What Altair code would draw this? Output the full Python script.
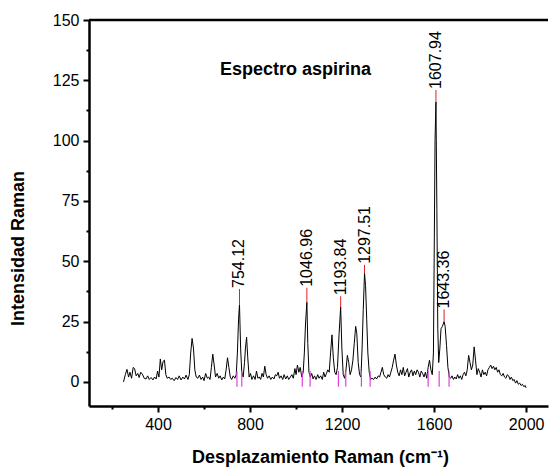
import altair as alt
import pandas as pd

# Raman shift (cm-1) and intensity
shift = [250, 258, 265, 272, 278, 285, 292, 298, 305, 312, 318, 325, 332, 340, 348, 355, 362, 370, 378, 385,
         392, 398, 404, 410, 416, 422, 428, 434, 440, 448, 455, 462, 470, 478, 485, 492, 500, 508, 515, 522,
         530, 536, 542, 548, 554, 560, 566, 573, 580, 587, 594, 600, 607, 614, 620, 626, 632, 638, 644, 650,
         657, 664, 670, 677, 684, 690, 696, 702, 708, 714, 720, 727, 734, 740, 745, 750, 754.12, 759, 764, 770,
         776, 780, 785, 790, 796, 802, 808, 815, 822, 828, 834, 840, 846, 852, 858, 864, 870, 876, 883, 890,
         897, 904, 910, 916, 922, 928, 935, 942, 948, 955, 962, 968, 975, 982, 988, 995, 1000, 1006, 1012, 1018,
         1025, 1031, 1036, 1041, 1046.96, 1051, 1056, 1062, 1068, 1074, 1080, 1087, 1094, 1100, 1107, 1114, 1120, 1126, 1132, 1138,
         1144, 1150, 1156, 1162, 1168, 1174, 1180, 1187, 1193.84, 1199, 1205, 1211, 1217, 1223, 1229, 1235, 1241, 1247, 1253, 1259,
         1264, 1270, 1276, 1282, 1287, 1292, 1297.51, 1302, 1307, 1312, 1318, 1324, 1330, 1337, 1344, 1350, 1357, 1363, 1369, 1375,
         1381, 1388, 1394, 1400, 1406, 1412, 1418, 1424, 1430, 1436, 1442, 1448, 1454, 1460, 1466, 1472, 1478, 1484, 1490, 1496,
         1502, 1508, 1514, 1520, 1526, 1532, 1538, 1544, 1550, 1556, 1562, 1568, 1574, 1580, 1586, 1592, 1597, 1601, 1604, 1607.94,
         1612, 1616, 1620, 1625, 1630, 1636, 1643.36, 1648, 1654, 1660, 1666, 1672, 1678, 1684, 1690, 1696, 1702, 1708, 1714, 1720,
         1726, 1732, 1738, 1744, 1750, 1756, 1762, 1768, 1774, 1780, 1786, 1792, 1798, 1804, 1810, 1816, 1822, 1828, 1834, 1840,
         1846, 1852, 1858, 1864, 1870, 1876, 1882, 1888, 1894, 1900, 1906, 1912, 1918, 1924, 1930, 1936, 1942, 1948, 1954, 1960,
         1966, 1972, 1978, 1984, 1990, 1996, 2000]
intensity = [0, 3, 5.2, 2, 4, 1.5, 6, 5.5, 2.5, 3.5, 1.8, 4, 3.2, 1.5, 1.2, 2.5, 1, 1.8, 0.8, 2,
             1.2, 4.5, 2, 9.5, 5, 8.5, 9, 3, 1.5, 2, 1, 1.5, 0.5, 1.8, 1, 2.5, 0.8, 2, 1.2, 2.8,
             1, 3, 12, 18, 14, 5, 2, 1.5, 2.8, 1, 2, 0.5, 3.5, 1.5, 2, 1, 6, 11.5, 7, 2,
             3.5, 1.5, 2.5, 0.8, 2, 1.2, 5, 10, 6, 2, 1, 2.5, 1.5, 3, 12, 26, 32, 14, 4, 2,
             8, 14, 18.5, 10, 2, 3.5, 1, 2.5, 1, 4.5, 1.5, 2, 1, 3.5, 2, 6.5, 3, 1.5, 2.5, 1,
             2, 1.2, 3, 2.5, 4, 1.5, 2.5, 1, 3, 1.2, 2.5, 1, 2, 3, 1.5, 5.5, 3, 7, 4, 6,
             2, 4, 12, 24, 33, 16, 4, 2, 3.5, 1.2, 2.5, 1, 3, 1.5, 2.5, 1, 4, 2, 3.5, 5,
             4, 12, 19.5, 10, 4, 3, 6, 20, 31, 14, 3, 1.5, 5, 11, 8, 3, 5, 9, 16, 23,
             20, 8, 3, 2, 14, 30, 45, 40, 26, 12, 4, 1, 1.5, 1, 2, 1.2, 2.5, 2, 4, 6,
             3, 2, 1.5, 3, 2, 4, 6, 9, 11.5, 7, 4, 2.5, 5, 3, 6, 2.5, 4, 5.5, 2, 4,
             5, 2.5, 4.5, 3, 5, 4, 2, 4.5, 3.5, 2, 4, 1.5, 6, 9, 5, 3, 12, 60, 100, 116,
             72, 22, 8, 14, 22, 23, 25, 23, 15, 6, 2, 1.5, 2.5, 1, 2, 1.2, 3, 1.5, 2.5, 1,
             3, 4, 2.5, 5, 11, 8, 5, 7, 14.5, 9, 3, 5.5, 4, 2, 5, 3, 4, 2.5, 5, 6,
             7, 5.5, 6.5, 5, 6, 4, 5, 3, 2.5, 3.5, 2, 1.5, 3, 2.5, 1, 2, 0.5, 1, -0.5, 0.5,
             -1, -0.5, -1.5, -1, -2, -1.5, -2.5]

# Labelled peaks
peak_pos = [754.12, 1046.96, 1193.84, 1297.51, 1607.94, 1643.36]
peak_top = [32, 33, 31, 45, 116, 25]
label_base = [38.5, 39, 35.5, 48.5, 121, 30]
peak_text = ["754.12", "1046.96", "1193.84", "1297.51", "1607.94", "1643.36"]

# Peak base markers (magenta)
base_pos = [743, 764, 1027, 1061, 1184, 1216, 1284, 1322, 1574, 1622, 1665]
base_high = [4.5] * len(base_pos)
base_low = [-2] * len(base_pos)

x_ticks = [200, 400, 600, 800, 1000, 1200, 1400, 1600, 1800, 2000]
y_ticks = [0, 12.5, 25, 37.5, 50, 62.5, 75, 87.5, 100, 112.5, 125, 137.5, 150]
x_domain = [100, 2095]
y_domain = [-10, 150]

FONT = "Liberation Sans"

spec = pd.DataFrame({"shift": shift, "intensity": intensity})
peaks = pd.DataFrame({"pos": peak_pos, "top": peak_top, "base": label_base, "txt": peak_text})
bases = pd.DataFrame({"pos": base_pos, "hi": base_high, "lo": base_low})
border = pd.DataFrame({"y": [y_domain[1]]})

xscale = alt.Scale(domain=x_domain, nice=False, zero=False)
yscale = alt.Scale(domain=y_domain, nice=False, zero=False)

x_axis = alt.Axis(
    values=x_ticks, format="d",
    labelExpr="datum.value % 400 === 0 ? datum.label : ''",
    tickSize={"expr": "datum.value % 400 === 0 ? 6 : 3"},
    title="Desplazamiento Raman (cm⁻¹)",
    titleX=231, titleY=56, titleAlign="center", titleBaseline="alphabetic",
    titleFontSize=18, titleFontWeight="bold", titleFont=FONT, titleColor="black",
    labelFont=FONT, labelFontSize=16, labelColor="black", labelPadding=4,
    domainColor="black", domainWidth=2.5, tickColor="black", tickWidth=2, grid=False,
)
y_axis = alt.Axis(
    values=y_ticks,
    labelExpr="datum.value % 25 === 0 ? datum.label : ''",
    tickSize={"expr": "datum.value % 25 === 0 ? 6 : 3"},
    title="Intensidad Raman",
    titleX=-66, titleY=228, titleAngle=270, titleAlign="center", titleBaseline="alphabetic",
    titleFontSize=18, titleFontWeight="bold", titleFont=FONT, titleColor="black",
    labelFont=FONT, labelFontSize=16, labelColor="black", labelPadding=4,
    domainColor="black", domainWidth=2.5, tickColor="black", tickWidth=2, grid=False,
)

line = alt.Chart(spec).mark_line(color="black", strokeWidth=1).encode(
    x=alt.X("shift:Q", scale=xscale, axis=x_axis),
    y=alt.Y("intensity:Q", scale=yscale, axis=y_axis),
)

base_marks = alt.Chart(bases).mark_rule(color="#e040e0", strokeWidth=1.2).encode(
    x=alt.X("pos:Q", scale=xscale, axis=x_axis),
    y=alt.Y("lo:Q", scale=yscale, axis=y_axis),
    y2="hi:Q",
)

red_marks = alt.Chart(peaks).mark_rule(color="#e02020", strokeWidth=1).encode(
    x=alt.X("pos:Q", scale=xscale, axis=x_axis),
    y=alt.Y("top:Q", scale=yscale, axis=y_axis),
    y2="base:Q",
)

labels = alt.Chart(peaks).mark_text(
    angle=270, align="left", baseline="middle", font=FONT, fontSize=16, color="black", dx=1
).encode(
    x=alt.X("pos:Q", scale=xscale, axis=x_axis),
    y=alt.Y("base:Q", scale=yscale, axis=y_axis),
    text="txt:N",
)

top_border = alt.Chart(border).mark_rule(color="black", strokeWidth=2.5).encode(
    y=alt.Y("y:Q", scale=yscale, axis=y_axis),
)

chart = alt.layer(line, base_marks, red_marks, labels, top_border).properties(
    width=459, height=386,
    padding={"left": 89, "top": 20, "right": 1, "bottom": 64},
    autosize="none",
    background="white",
    title=alt.TitleParams(
        "Espectro aspirina", anchor="middle", frame="group", baseline="alphabetic",
        offset=0, dy=81, dx=-23, font=FONT, fontSize=18, fontWeight="bold", color="black",
    ),
).configure_view(stroke=None)

chart.save("out.html", embed_options={"renderer": "svg", "actions": False})
